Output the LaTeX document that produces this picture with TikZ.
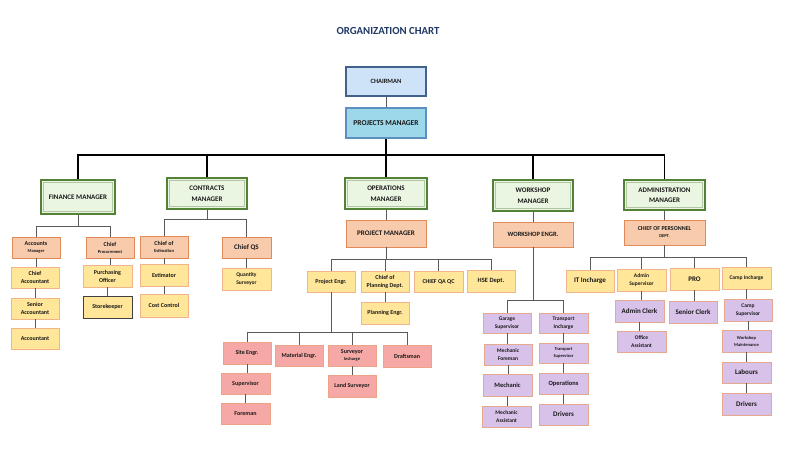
\documentclass[tikz,border=0pt]{standalone}
\usepackage{fontspec}
\setmainfont{Carlito}
\definecolor{navy}{HTML}{1F3864}
\definecolor{orF}{HTML}{F8CBAD}
\definecolor{orD}{HTML}{E2895A}
\definecolor{yeF}{HTML}{FFE699}
\definecolor{yeD}{HTML}{F2B48A}
\definecolor{piF}{HTML}{F5A8A6}
\definecolor{piD}{HTML}{EBA488}
\definecolor{puF}{HTML}{D9C2EA}
\definecolor{puD}{HTML}{E6A88E}
\definecolor{grF}{HTML}{EBF6E2}
\definecolor{grD}{HTML}{538135}
\definecolor{chF}{HTML}{CFE3F8}
\definecolor{chD}{HTML}{41628A}
\definecolor{pmF}{HTML}{9DD8EA}
\definecolor{pmD}{HTML}{5B90C0}
\newcommand\fs[1]{\fontsize{#1}{#1}\selectfont}
\newcommand\bx[7]{\node[box,#6,minimum width={#4-#2},minimum height={#5-#3}] (#1) at ({(#2+#4)/2},{(#3+#5)/2}) {#7};}
\newcommand\inner[1]{\draw[grD!45,line width=0.6pt] ([shift={(3.5,3.5)}]#1.north west) rectangle ([shift={(-3.5,-3.5)}]#1.south east);}
\begin{document}
\begin{tikzpicture}[x=1pt,y=-1pt,
  box/.style={draw,inner sep=0pt,align=center,text=black!90,font=\bfseries\fontsize{6}{8}\selectfont},
  mgr/.style={fill=grF,draw=grD,line width=1.6pt,font=\bfseries\fontsize{7}{10.5}\selectfont},
  orb/.style={fill=orF,draw=orD,line width=0.8pt},
  yeb/.style={fill=yeF,draw=yeD,line width=0.8pt},
  pib/.style={fill=piF,draw=piD,line width=0.8pt},
  pub/.style={fill=puF,draw=puD,line width=0.8pt},
  bus/.style={draw=black,line width=1.3pt},
  ln/.style={draw=black!65,line width=0.8pt}]
\useasboundingbox (0,0) rectangle (800,459);
\node[font=\bfseries\fontsize{10.8}{12}\selectfont,text=navy] (title) at (388,31) {ORGANIZATION CHART};
% top
\bx{ch}{346}{67}{426}{96}{fill=chF,draw=chD,line width=1.6pt,font=\bfseries\fontsize{6.5}{8}\selectfont}{CHAIRMAN}
\bx{pjm}{346}{108}{426}{138}{fill=pmF,draw=pmD,line width=1.6pt,font=\bfseries\fontsize{7.5}{9}\selectfont}{PROJECTS MANAGER}
\coordinate (yB) at (0,155);
% managers
\bx{fm}{41}{180}{115}{214}{mgr}{FINANCE MANAGER}
\bx{cm}{167}{178}{247}{209}{mgr}{CONTRACTS\\MANAGER}
\bx{om}{345}{178}{427}{209}{mgr}{OPERATIONS\\MANAGER}
\bx{wm}{493}{180}{573}{211}{mgr}{WORKSHOP\\MANAGER}
\bx{am}{624}{180}{705}{210}{mgr}{ADMINISTRATION\\MANAGER}
\inner{fm}\inner{cm}\inner{om}\inner{wm}\inner{am}
\draw[ln] (ch.south) -- (ch.south |- pjm.north);
\draw[bus] (pjm.south) -- (pjm.south |- yB);
\draw[bus] (fm.north) |- (am.north |- yB) -- (am.north);
\draw[bus] (cm.north) -- (cm.north |- yB);
\draw[bus] (om.north) -- (om.north |- yB);
\draw[bus] (wm.north) -- (wm.north |- yB);
% finance
\coordinate (yF) at (0,226);
\bx{acm}{12}{237}{60}{258}{orb}{Accounts\\[-1pt]{\fs{4.5}Manager}}
\bx{cpr}{86}{237}{134}{258}{orb}{Chief\\[-1pt]{\fs{4.5}Procurement}}
\bx{cac}{11}{267}{59}{288}{yeb}{Chief\\Accountant}
\bx{sac}{11}{298}{59}{319}{yeb}{Senior\\Accountant}
\bx{acc}{11}{328}{59}{349}{yeb}{Accountant}
\bx{puo}{83}{265}{132}{287}{yeb}{Purchasing\\Officer}
\bx{stk}{83}{296}{132}{318}{yeb,draw=black!75}{Storekeeper}
\draw[ln] (fm.south) -- (fm.south |- yF);
\draw[ln] (acm.north) |- (cpr.north |- yF) -- (cpr.north);
\draw[ln] (acm.south) -- (acm.south |- cac.north);
\draw[ln] (cac.south) -- (cac.south |- sac.north);
\draw[ln] (sac.south) -- (sac.south |- acc.north);
\draw[ln] (cpr.south) -- (cpr.south |- puo.north);
\draw[ln] (puo.south) -- (puo.south |- stk.north);
% contracts
\coordinate (yC) at (0,219);
\bx{ces}{140}{236}{188}{258}{orb}{Chief of\\[-1pt]{\fs{4.5}Estimation}}
\bx{cqs}{222}{237}{271}{258}{orb,font=\bfseries\fontsize{7}{8}\selectfont}{Chief QS}
\bx{est}{140}{264}{188}{286}{yeb}{Estimator}
\bx{coc}{140}{294}{188}{317}{yeb}{Cost Control}
\bx{qsv}{222}{268}{271}{290}{yeb,font=\bfseries\fontsize{5.5}{7.5}\selectfont}{Quantity\\Surveyor}
\draw[ln] (cm.south) -- (cm.south |- yC);
\draw[ln] (ces.north) |- (cqs.north |- yC) -- (cqs.north);
\draw[ln] (ces.south) -- (ces.south |- est.north);
\draw[ln] (est.south) -- (est.south |- coc.north);
\draw[ln] (cqs.south) -- (cqs.south |- qsv.north);
% operations
\bx{prm}{346}{220}{426}{247}{orb,font=\bfseries\fontsize{7}{8}\selectfont}{PROJECT MANAGER}
\coordinate (yO) at (0,259);
\bx{pen}{307}{271}{355}{292}{yeb}{Project Engr.}
\bx{cpl}{361}{271}{409}{292}{yeb}{Chief of\\Planning Dept.}
\bx{cqa}{414}{271}{463}{292}{yeb}{CHIEF QA QC}
\bx{hse}{467}{270}{515}{292}{yeb,font=\bfseries\fontsize{6.5}{8}\selectfont}{HSE Dept.}
\bx{ple}{361}{302}{409}{324}{yeb}{Planning Engr.}
\draw[ln] (om.south) -- (om.south |- prm.north);
\draw[ln] (prm.south) -- (prm.south |- yO);
\draw[ln] (pen.north) |- (hse.north |- yO) -- (hse.north);
\draw[ln] (cpl.north) -- (cpl.north |- yO);
\draw[ln] (cqa.north) -- (cqa.north |- yO);
\draw[ln] (cpl.south) -- (cpl.south |- ple.north);
\coordinate (yS) at (0,332);
\bx{sen}{223}{342}{271}{364}{pib}{Site Engr.}
\bx{men}{275}{345}{323}{366}{pib}{Material Engr.}
\bx{svi}{328}{345}{376}{366}{pib}{Surveyor\\[-1pt]{\fs{4.5}Incharge}}
\bx{dft}{383}{345}{431}{367}{pib}{Draftsman}
\bx{sup}{221}{373}{270}{394}{pib}{Supervisor}
\bx{frm}{221}{403}{270}{424}{pib}{Foreman}
\bx{lsv}{328}{375}{376}{397}{pib}{Land Surveyor}
\draw[ln] (pen.south) -- (pen.south |- yS);
\draw[ln] (sen.north) |- (dft.north |- yS) -- (dft.north);
\draw[ln] (men.north) -- (men.north |- yS);
\draw[ln] (svi.north) -- (svi.north |- yS);
\draw[ln] (sen.south) -- (sen.south |- sup.north);
\draw[ln] (sup.south) -- (sup.south |- frm.north);
\draw[ln] (svi.south) -- (svi.south |- lsv.north);
% workshop
\bx{wen}{493}{222}{573}{247}{orb,font=\bfseries\fontsize{6.5}{8}\selectfont}{WORKSHOP ENGR.}
\coordinate (yW) at (0,300);
\bx{gsv}{483}{313}{531}{333}{pub,font=\bfseries\fontsize{5.5}{7.5}\selectfont}{Garage\\Supervisor}
\bx{tin}{539}{313}{588}{333}{pub,font=\bfseries\fontsize{5.5}{7.5}\selectfont}{Transport\\Incharge}
\bx{mfo}{484}{344}{532}{365}{pub,font=\bfseries\fontsize{5.5}{7.5}\selectfont}{Mechanic\\Foreman}
\bx{mec}{483}{374}{532}{396}{pub,font=\bfseries\fontsize{6.5}{8}\selectfont}{Mechanic}
\bx{mas}{482}{406}{531}{427}{pub,font=\bfseries\fontsize{5.5}{7.5}\selectfont}{Mechanic\\Assistant}
\bx{tsv}{539}{343}{588}{363}{pub,font=\bfseries\fontsize{4.5}{7}\selectfont}{Transport\\Supervisor}
\bx{opr}{539}{373}{588}{394}{pub,font=\bfseries\fontsize{6.5}{8}\selectfont}{Operations}
\bx{drw}{539}{404}{588}{425}{pub,font=\bfseries\fontsize{7}{8}\selectfont}{Drivers}
\draw[ln] (wm.south) -- (wm.south |- wen.north);
\draw[ln] (wen.south) -- (wen.south |- yW);
\draw[ln] (gsv.north) |- (tin.north |- yW) -- (tin.north);
\draw[ln] (gsv.south) -- (gsv.south |- mfo.north);
\draw[ln] (mfo.south) -- (mfo.south |- mec.north);
\draw[ln] (mec.south) -- (mec.south |- mas.north);
\draw[ln] (tin.south) -- (tin.south |- tsv.north);
\draw[ln] (tsv.south) -- (tsv.south |- opr.north);
\draw[ln] (opr.south) -- (opr.south |- drw.north);
% administration
\bx{cpd}{624}{220}{705}{245}{orb}{CHIEF OF PERSONNEL\\[-1pt]{\fs{4.5}DEPT.}}
\coordinate (yA) at (0,257);
\bx{itc}{566}{270}{614}{292}{yeb,font=\bfseries\fontsize{7}{8}\selectfont}{IT Incharge}
\bx{asv}{617}{269}{666}{291}{yeb,font=\bfseries\fontsize{5.5}{7.5}\selectfont}{Admin\\Supervisor}
\bx{pro}{670}{268}{719}{290}{yeb,font=\bfseries\fontsize{7}{8}\selectfont}{PRO}
\bx{cin}{722}{267}{771}{289}{yeb,font=\bfseries\fontsize{5.5}{7.5}\selectfont}{Camp Incharge}
\bx{acl}{615}{300}{664}{322}{pub,font=\bfseries\fontsize{7}{8}\selectfont}{Admin Clerk}
\bx{ofa}{617}{331}{666}{352}{pub,font=\bfseries\fontsize{5.5}{7.5}\selectfont}{Office\\Assistant}
\bx{scl}{669}{301}{717}{323}{pub,font=\bfseries\fontsize{7}{8}\selectfont}{Senior Clerk}
\bx{csv}{724}{299}{772}{321}{pub,font=\bfseries\fontsize{5.5}{7.5}\selectfont}{Camp\\Supervisor}
\bx{wmt}{722}{330}{771}{352}{pub,font=\bfseries\fontsize{4.5}{7}\selectfont}{Workshop\\Maintenance}
\bx{lab}{722}{362}{771}{383}{pub,font=\bfseries\fontsize{7}{8}\selectfont}{Labours}
\bx{dra}{722}{393}{771}{415}{pub,font=\bfseries\fontsize{7}{8}\selectfont}{Drivers}
\draw[ln] (am.south) -- (am.south |- cpd.north);
\draw[ln] (cpd.south) -- (cpd.south |- yA);
\draw[ln] (itc.north) |- (cin.north |- yA) -- (cin.north);
\draw[ln] (asv.north) -- (asv.north |- yA);
\draw[ln] (pro.north) -- (pro.north |- yA);
\draw[ln] (asv.south) -- (asv.south |- acl.north);
\draw[ln] (acl.south) -- (acl.south |- ofa.north);
\draw[ln] (pro.south) -- (pro.south |- scl.north);
\draw[ln] (cin.south) -- (cin.south |- csv.north);
\draw[ln] (csv.south) -- (csv.south |- wmt.north);
\draw[ln] (wmt.south) -- (wmt.south |- lab.north);
\draw[ln] (lab.south) -- (lab.south |- dra.north);
\end{tikzpicture}
\end{document}
